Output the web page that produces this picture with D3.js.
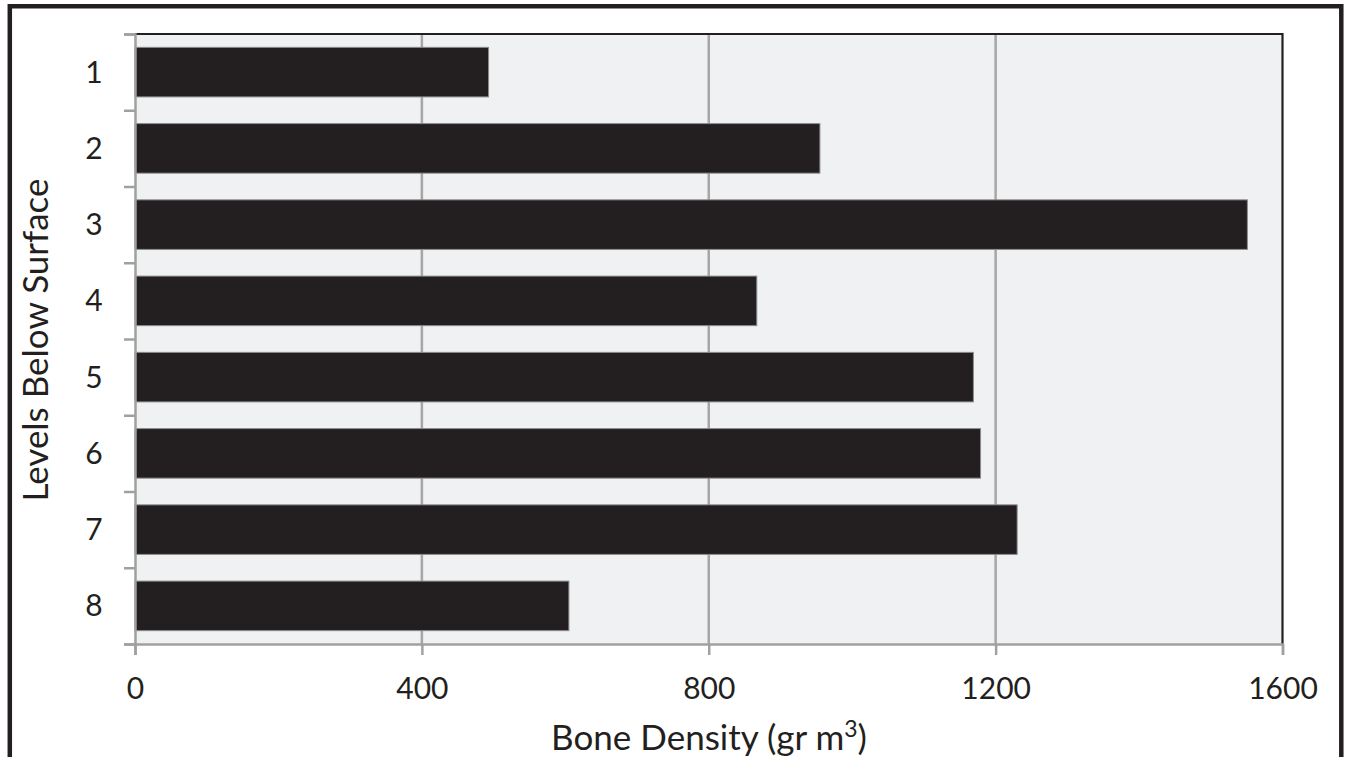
<!DOCTYPE html>
<html>
<head>
<meta charset="utf-8">
<script src="https://cdn.jsdelivr.net/npm/d3@7"></script>
<style>
  html, body { margin: 0; padding: 0; background: #ffffff; }
  svg { display: block; }
  text { font-family: Lato, "Open Sans", sans-serif; fill: #231f20; }
</style>
</head>
<body>
<svg id="chart" width="1349" height="757"></svg>
<script>
const categories = ["1", "2", "3", "4", "5", "6", "7", "8"];
const values = [493, 955, 1551, 867, 1169, 1179, 1230, 605];
const xTicks = [0, 400, 800, 1200, 1600];
const xTitle = "Bone Density (gr m";
const xTitleSup = "3";
const yTitle = "Levels Below Surface";

(function () {
const svg = d3.select("#chart");
const W = 1349, H = 757;
const pL = 135, pR = 1282.5, pT = 34, pB = 644;
const ink = "#231f20";

// outer frame (no bottom edge)
svg.append("path")
  .attr("d", `M9.8,${H} L9.8,6.3 L1341.3,6.3 L1341.3,${H}`)
  .attr("fill", "none").attr("stroke", ink).attr("stroke-width", 4.5);

const x = d3.scaleLinear().domain([0, 1600]).range([pL, pR]);
const y = d3.scaleBand().domain(categories).range([pT, pB])
  .paddingInner(0.35).paddingOuter(0.175);
const yEdges = d3.scaleLinear().domain([0, categories.length]).range([pT, pB]);

// plot background
svg.append("rect").attr("x", pL).attr("y", pT)
  .attr("width", pR - pL).attr("height", pB - pT)
  .attr("fill", "#f0f1f3");

// gridlines
svg.append("g").selectAll("line").data(xTicks.filter(d => d > 0 && d < 1600)).join("line")
  .attr("x1", d => x(d)).attr("x2", d => x(d))
  .attr("y1", pT).attr("y2", pB)
  .attr("stroke", "#a6a6a6").attr("stroke-width", 2.5);

// bars
svg.append("g").selectAll("rect").data(categories).join("rect")
  .attr("x", x(0))
  .attr("y", d => y(d))
  .attr("width", (d, i) => x(values[i]) - x(0))
  .attr("height", y.bandwidth())
  .attr("fill", ink)
  .attr("stroke", "#8c8c8c").attr("stroke-width", 1);

// plot border top & right (dark)
svg.append("path")
  .attr("d", `M${pL},${pT} L${pR},${pT} L${pR},${pB}`)
  .attr("fill", "none").attr("stroke", ink).attr("stroke-width", 2.2);

// x axis
const xAxis = svg.append("g").attr("transform", `translate(0,${pB})`)
  .call(d3.axisBottom(x).tickValues(xTicks).tickSize(11).tickPadding(23).tickFormat(d3.format("d")));
xAxis.select(".domain").attr("stroke", "#a0a0a0").attr("stroke-width", 2.5);
xAxis.selectAll(".tick line").attr("stroke", "#a0a0a0").attr("stroke-width", 2.5);
xAxis.selectAll(".tick text").attr("font-size", 30).attr("font-family", "Lato, sans-serif").attr("fill", ink);

// y axis: ticks at category edges
const yAxis = svg.append("g").attr("transform", `translate(${pL},0)`)
  .call(d3.axisLeft(yEdges).tickValues(d3.range(0, categories.length + 1)).tickSize(11).tickFormat(""));
yAxis.select(".domain").attr("stroke", "#a0a0a0").attr("stroke-width", 2.5);
yAxis.selectAll(".tick line").attr("stroke", "#a0a0a0").attr("stroke-width", 2.5);

// y category labels
svg.append("g").selectAll("text").data(categories).join("text")
  .attr("x", 94).attr("y", d => y(d) + y.bandwidth() / 2)
  .attr("dy", "0.35em")
  .attr("text-anchor", "middle")
  .attr("font-size", 30)
  .text(d => d);

// x title
const xt = svg.append("text").attr("x", 709).attr("y", 750)
  .attr("text-anchor", "middle").attr("font-size", 35);
xt.append("tspan").text(xTitle);
xt.append("tspan").attr("dy", -13).attr("font-size", 23).text(xTitleSup);
xt.append("tspan").attr("dy", 13).text(")");

// y title
svg.append("text")
  .attr("transform", "translate(48,340) rotate(-90)")
  .attr("text-anchor", "middle").attr("font-size", 35)
  .text(yTitle);
})();
</script>
</body>
</html>
